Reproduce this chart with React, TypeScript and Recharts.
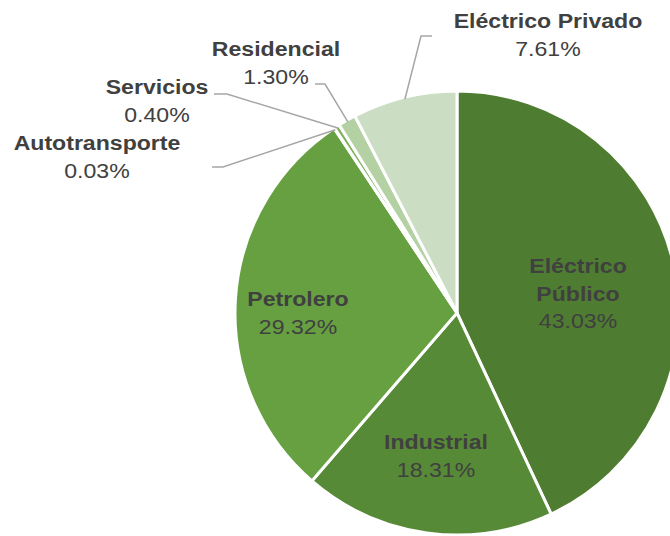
import React from "react";
import { PieChart, Pie, Cell } from "recharts";

const sectors = [
  "Eléctrico Público",
  "Industrial",
  "Petrolero",
  "Autotransporte",
  "Servicios",
  "Residencial",
  "Eléctrico Privado",
];
const shares = [43.03, 18.31, 29.32, 0.03, 0.4, 1.3, 7.61];
const nameLines = [
  ["Eléctrico", "Público"],
  ["Industrial"],
  ["Petrolero"],
  ["Autotransporte"],
  ["Servicios"],
  ["Residencial"],
  ["Eléctrico Privado"],
];

const colors = ["#4e7c30", "#578a37", "#66a041", "#86b865", "#7fb05a", "#b3d1a3", "#cbdec4"];

// where each label block sits, plus elbow / end of the leader line for outside labels
const labelLayout: { x: number; y: number; elbow?: [number, number]; end?: [number, number] }[] = [
  { x: 578, y: 266 },
  { x: 436, y: 442 },
  { x: 298, y: 299 },
  { x: 97, y: 143, elbow: [223, 167], end: [212, 167] },
  { x: 157, y: 87, elbow: [227, 94], end: [214, 94] },
  { x: 276, y: 49, elbow: [325, 84], end: [315, 84] },
  { x: 548, y: 21, elbow: [421, 36], end: [432, 36] },
];

const data = sectors.map((name, i) => ({ name, value: shares[i] }));

const RAD = Math.PI / 180;
const FONT = "'Liberation Sans', Arial, sans-serif";
const LINE_H = 27.5;

const SText = ({ x, y, bold, children }: { x: number; y: number; bold?: boolean; children: React.ReactNode }) => (
  <text
    transform={`translate(${x} ${y}) scale(1.1 1)`}
    textAnchor="middle"
    dominantBaseline="central"
    fontFamily={FONT}
    fontSize={21}
    fontWeight={bold ? 700 : 400}
    fill="#404040"
  >
    {children}
  </text>
);

const renderLabel = (props: any) => {
  const { cx, cy, midAngle, outerRadius, index } = props;
  const lay = labelLayout[index];
  const lines = nameLines[index];
  let leader = null;
  if (lay.elbow && lay.end) {
    const sx = cx + (outerRadius - 2) * Math.cos(-midAngle * RAD);
    const sy = cy + (outerRadius - 2) * Math.sin(-midAngle * RAD);
    leader = (
      <polyline
        points={`${sx},${sy} ${lay.elbow[0]},${lay.elbow[1]} ${lay.end[0]},${lay.end[1]}`}
        fill="none"
        stroke="#a6a6a6"
        strokeWidth={1.5}
      />
    );
  }
  return (
    <g key={`lbl-${index}`}>
      {leader}
      {lines.map((t, k) => (
        <SText key={k} x={lay.x} y={lay.y + k * LINE_H} bold>
          {t}
        </SText>
      ))}
      <SText x={lay.x} y={lay.y + lines.length * LINE_H}>
        {shares[index].toFixed(2) + "%"}
      </SText>
    </g>
  );
};

export default function App() {
  return (
    <div style={{ position: "absolute", left: 0, top: 0, background: "#fff" }}>
      <PieChart width={670} height={536} margin={{ top: 0, right: 0, bottom: 0, left: 0 }}>
        <Pie
          data={data}
          dataKey="value"
          nameKey="name"
          cx={457}
          cy={313}
          outerRadius={222}
          startAngle={90}
          endAngle={-270}
          stroke="#ffffff"
          strokeWidth={3}
          label={renderLabel}
          labelLine={false}
          isAnimationActive={false}
        >
          {data.map((d, i) => (
            <Cell key={d.name} fill={colors[i]} />
          ))}
        </Pie>
      </PieChart>
    </div>
  );
}
